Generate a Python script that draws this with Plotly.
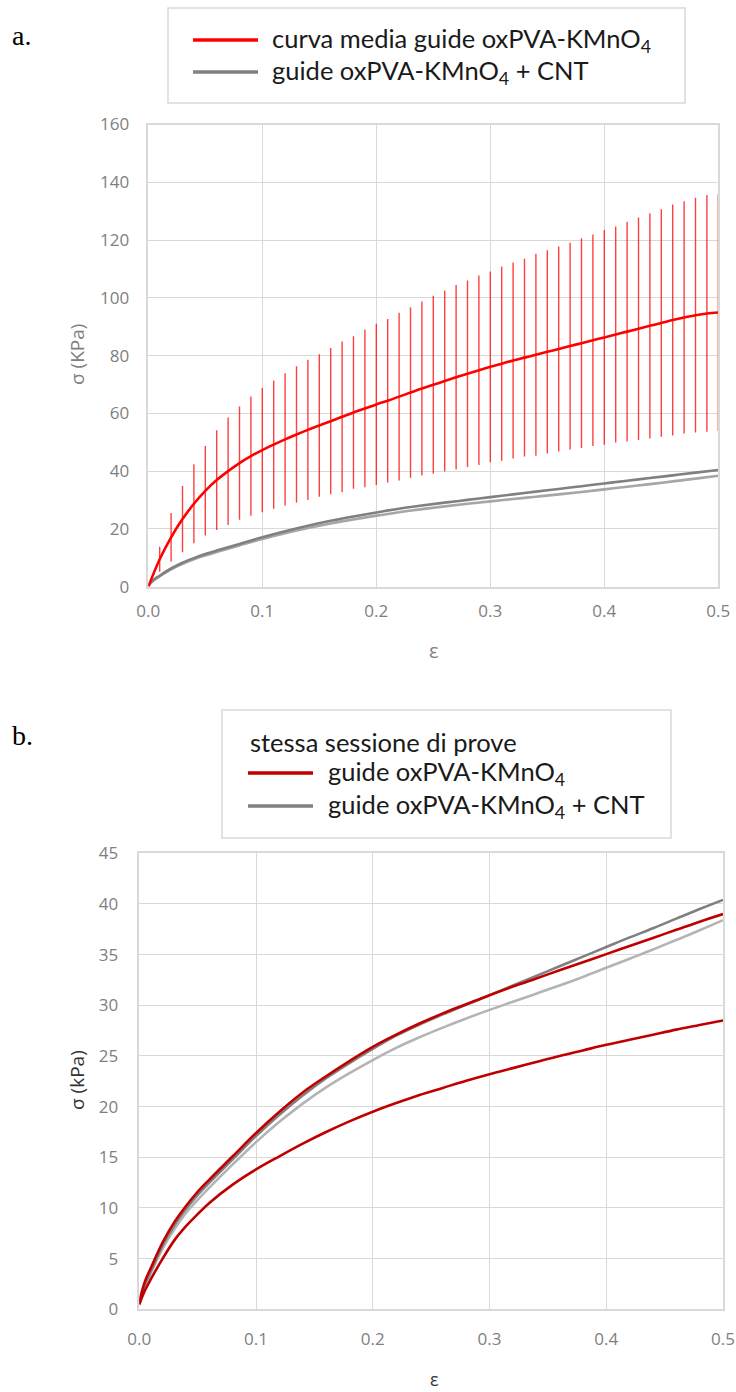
import plotly.graph_objects as go

W, H = 736, 1392

# ---------------- panel a: averaged curve with standard deviation ----------------
strain_a = [round(i * 0.01, 2) for i in range(51)]
mean_a = [0.0, 9.5, 17.1, 23.4, 28.7, 33.2, 36.9, 40.0, 42.8, 45.2,
          47.3, 49.2, 51.0, 52.7, 54.3, 55.8, 57.3, 58.8, 60.3, 61.7,
          63.1, 64.4, 65.8, 67.2, 68.6, 69.9, 71.2, 72.5, 73.7, 74.9,
          76.1, 77.2, 78.3, 79.3, 80.3, 81.3, 82.3, 83.3, 84.3, 85.3,
          86.3, 87.3, 88.3, 89.3, 90.3, 91.3, 92.3, 93.2, 94.0, 94.6,
          94.9]
sd_a = [0.0, 4.3, 8.4, 11.5, 13.7, 15.5, 17.3, 18.6, 19.6, 20.6,
        21.5, 22.2, 22.9, 23.6, 24.3, 24.7, 25.3, 26.1, 26.4, 27.3,
        27.9, 28.3, 29.0, 29.5, 30.1, 30.8, 31.3, 31.9, 32.3, 32.8,
        33.0, 33.6, 33.9, 34.2, 35.0, 35.2, 35.5, 35.8, 36.3, 36.6,
        37.2, 37.4, 38.0, 38.5, 39.0, 39.4, 40.0, 40.2, 40.6, 41.0,
        41.0]

# ---------------- single tests (same session) ----------------
strain_b = [0, 0.005, 0.01, 0.02, 0.03, 0.04, 0.05,
            0.06, 0.08, 0.10, 0.12, 0.14, 0.16, 0.18, 0.20, 0.22, 0.24, 0.26,
            0.28, 0.30, 0.32, 0.34, 0.36, 0.38, 0.40, 0.42, 0.44, 0.46, 0.48, 0.50]
kmno4_1 = [0.8, 2.8, 4.1, 6.6, 8.6, 10.2, 11.6,
           12.8, 15.1, 17.4, 19.5, 21.4, 23.0, 24.5, 25.9, 27.1, 28.2, 29.2,
           30.1, 31.0, 31.85, 32.65, 33.45, 34.25, 35.05, 35.85, 36.65, 37.45, 38.25, 39.0]
kmno4_2 = [0.5, 1.9, 3.0, 5.0, 6.8, 8.2, 9.4,
           10.5, 12.3, 13.8, 15.1, 16.35, 17.5, 18.55, 19.5, 20.35, 21.15, 21.85,
           22.55, 23.2, 23.8, 24.4, 25.0, 25.55, 26.1, 26.6, 27.1, 27.6, 28.05, 28.5]
cnt_1 = [0.5, 2.5, 3.8, 6.3, 8.3, 9.9, 11.3,
         12.5, 14.8, 17.1, 19.2, 21.1, 22.8, 24.3, 25.7, 27.0, 28.1, 29.1,
         30.05, 31.0, 31.95, 32.9, 33.85, 34.8, 35.75, 36.7, 37.6, 38.55, 39.5, 40.4]
cnt_2 = [0.4, 2.3, 3.6, 6.0, 7.9, 9.5, 10.8,
         12.0, 14.3, 16.5, 18.5, 20.3, 21.9, 23.3, 24.6, 25.8, 26.85, 27.8,
         28.7, 29.55, 30.35, 31.15, 31.95, 32.8, 33.7, 34.6, 35.5, 36.45, 37.4, 38.4]

ticks_x = [0.0, 0.1, 0.2, 0.3, 0.4, 0.5]
ticks_y_a = list(range(0, 161, 20))
ticks_y_b = list(range(0, 46, 5))

RED_A = "#FF0000"
RED_B = "#C00000"
GRAY_D = "#808080"
GRAY_L = "#B4B4B4"
GRID = "#D9D9D9"
TICK_FONT = dict(family="Open Sans", size=17, color="#808080")
LEG_FONT = dict(family="Lato", size=25.5, color="#1a1a1a")


def px(x):
    return x / W


def py(y):
    return 1 - y / H


fig = go.Figure()

# panel a: CNT curves underneath
fig.add_trace(go.Scatter(x=strain_b, y=cnt_2, mode="lines", xaxis="x", yaxis="y",
                         line=dict(color="#A6A6A6", width=2.6, shape="spline"), showlegend=False))
fig.add_trace(go.Scatter(x=strain_b, y=cnt_1, mode="lines", xaxis="x", yaxis="y",
                         line=dict(color=GRAY_D, width=2.6, shape="spline"), showlegend=False))
# panel a: mean curve with error bars
fig.add_trace(go.Scatter(x=strain_a, y=mean_a, mode="lines", xaxis="x", yaxis="y",
                         line=dict(color=RED_A, width=2.6, shape="spline"),
                         error_y=dict(type="data", array=sd_a, visible=True, width=0,
                                      thickness=1.4, color="rgba(255,0,0,0.75)"),
                         showlegend=False))

# panel b
for ys, col in [(cnt_2, GRAY_L), (cnt_1, GRAY_D), (kmno4_2, RED_B), (kmno4_1, RED_B)]:
    fig.add_trace(go.Scatter(x=strain_b, y=ys, mode="lines", xaxis="x2", yaxis="y2",
                             line=dict(color=col, width=2.6, shape="spline"), showlegend=False))

axis_common = dict(showgrid=True, gridcolor=GRID, gridwidth=1.2, zeroline=False,
                   showline=True, linecolor=GRID, linewidth=1.5, mirror=True,
                   automargin=False,
                   tickfont=TICK_FONT, ticks="outside", tickcolor="rgba(0,0,0,0)")

fig.update_layout(
    width=W, height=H,
    margin=dict(l=0, r=0, t=0, b=0),
    paper_bgcolor="white", plot_bgcolor="white",
    showlegend=False,
    xaxis=dict(domain=[px(148.3), px(718.3)], range=[0, 0.5], tickvals=ticks_x,
               tickformat=".1f", anchor="y", ticklen=8, **axis_common),
    yaxis=dict(domain=[py(586.7), py(124.5)], range=[0, 160], tickvals=ticks_y_a,
               anchor="x", ticklen=14, **axis_common),
    xaxis2=dict(domain=[px(139.3), px(723)], range=[0, 0.5], tickvals=ticks_x,
                tickformat=".1f", anchor="y2", ticklen=14, **axis_common),
    yaxis2=dict(domain=[py(1309.3), py(853.3)], range=[0, 45], tickvals=ticks_y_b,
                anchor="x2", ticklen=16, **axis_common),
)

shapes = []
ann = []

# panel labels
ann.append(dict(text="a.", x=px(10), y=py(35), xanchor="left", yanchor="middle",
                font=dict(family="Liberation Serif", size=28, color="black")))
ann.append(dict(text="b.", x=px(10), y=py(735), xanchor="left", yanchor="middle",
                font=dict(family="Liberation Serif", size=28, color="black")))

# axis titles
ann.append(dict(text="ε", x=px(434), y=py(650), xanchor="center", yanchor="middle",
                font=dict(family="Open Sans", size=20, color="#808080")))
ann.append(dict(text="σ (KPa)", x=px(77), y=py(355), xanchor="center", yanchor="middle",
                textangle=-90, font=dict(family="Open Sans", size=19, color="#808080")))
ann.append(dict(text="ε", x=px(434), y=py(1379), xanchor="center", yanchor="middle",
                font=dict(family="Open Sans", size=18, color="#333333")))
ann.append(dict(text="σ (kPa)", x=px(77), y=py(1080), xanchor="center", yanchor="middle",
                textangle=-90, font=dict(family="Open Sans", size=19, color="#333333")))

# key for panel a
shapes.append(dict(type="rect", xref="paper", yref="paper", x0=px(168), x1=px(685),
                   y0=py(103), y1=py(8), line=dict(color=GRID, width=1.5)))
for yy, col, label in [(40, RED_A, "curva media guide oxPVA-KMnO<sub>4</sub>"),
                       (72, GRAY_D, "guide oxPVA-KMnO<sub>4</sub> + CNT")]:
    shapes.append(dict(type="line", xref="paper", yref="paper", x0=px(193), x1=px(258),
                       y0=py(yy), y1=py(yy), line=dict(color=col, width=3.5)))
    ann.append(dict(text=label, x=px(270), y=py(yy), xanchor="left", yanchor="middle",
                    font=LEG_FONT))

# key for panel b
shapes.append(dict(type="rect", xref="paper", yref="paper", x0=px(222), x1=px(671),
                   y0=py(838), y1=py(710), line=dict(color=GRID, width=1.5)))
ann.append(dict(text="stessa sessione di prove", x=px(248), y=py(742), xanchor="left",
                yanchor="middle", font=LEG_FONT))
for yy, col, label in [(773, RED_B, "guide oxPVA-KMnO<sub>4</sub>"),
                       (806, GRAY_D, "guide oxPVA-KMnO<sub>4</sub> + CNT")]:
    shapes.append(dict(type="line", xref="paper", yref="paper", x0=px(248), x1=px(313),
                       y0=py(yy), y1=py(yy), line=dict(color=col, width=3.5)))
    ann.append(dict(text=label, x=px(326), y=py(yy), xanchor="left", yanchor="middle",
                    font=LEG_FONT))

for a in ann:
    a.update(xref="paper", yref="paper", showarrow=False)

fig.update_layout(shapes=shapes, annotations=ann)

fig.write_html("out.html")
